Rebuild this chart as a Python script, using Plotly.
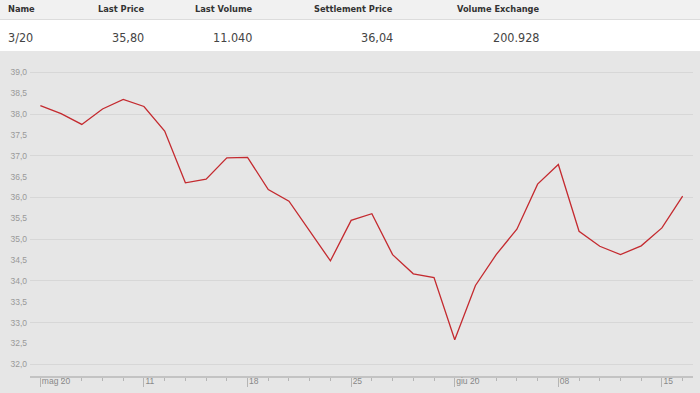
import plotly.graph_objects as go

# ---- data ----
day_index = list(range(32))
prices = [38.20, 38.01, 37.75, 38.12, 38.35, 38.18, 37.59, 36.35, 36.44, 36.95,
          36.96, 36.19, 35.91, 35.19, 34.48, 35.45, 35.61, 34.63, 34.17, 34.08,
          32.59, 33.89, 34.63, 35.24, 36.32, 36.79, 35.19, 34.83, 34.63, 34.84,
          35.27, 36.03]
x_tick_index = [0, 5, 10, 15, 20, 25, 30]
x_tick_labels = ["mag 20", "11", "18", "25", "giu 20", "08", "15"]
y_label_ticks = [32.0, 32.5, 33.0, 33.5, 34.0, 34.5, 35.0, 35.5, 36.0, 36.5,
                 37.0, 37.5, 38.0, 38.5, 39.0]
y_grid_ticks = [32.0, 33.0, 34.0, 35.0, 36.0, 37.0, 38.0, 39.0]
header_labels = ["Name", "Last Price", "Last Volume", "Settlement Price", "Volume Exchange"]
row_values = ["3/20", "35,80", "11.040", "36,04", "200.928"]

# ---- layout helpers ----
W, H = 700, 393
B = 17
PH = H - B  # height of paper area


def px_x(p):
    return p / W


def px_y(p):
    return (PH - p) / PH


header_x = [6, 146, 254.5, 395, 542]
header_anchor = ["left", "right", "right", "right", "right"]
narrow = "Liberation Sans Narrow, DejaVu Sans Condensed, Arial Narrow, sans-serif"

fig = go.Figure()
fig.add_trace(go.Scatter(
    x=day_index, y=prices, mode="lines",
    line=dict(color="#c42a2f", width=1.3),
    hoverinfo="skip", showlegend=False,
))

shapes = [
    dict(type="rect", xref="paper", yref="paper", x0=0, x1=1,
         y0=px_y(19.5), y1=1, fillcolor="#f1f1f1", line=dict(width=0), layer="below"),
    dict(type="rect", xref="paper", yref="paper", x0=0, x1=1,
         y0=px_y(51), y1=px_y(19.5), fillcolor="#ffffff", line=dict(width=0), layer="below"),
    dict(type="line", xref="paper", yref="paper", x0=0, x1=1,
         y0=px_y(19.5), y1=px_y(19.5), line=dict(color="#dcdcdc", width=1)),
]

annotations = []
for lab, val, xp, anc in zip(header_labels, row_values, header_x, header_anchor):
    annotations.append(dict(
        text="<b>" + lab + "</b>", x=px_x(xp), y=px_y(8.5), xref="paper", yref="paper",
        xanchor=anc, yanchor="middle", showarrow=False,
        font=dict(family=narrow, size=9.2, color="#333333")))
    annotations.append(dict(
        text=val, x=px_x(xp), y=px_y(37), xref="paper", yref="paper",
        xanchor=anc, yanchor="middle", showarrow=False,
        font=dict(family=narrow, size=12.5, color="#444444")))

y_range = [31.72, 39.295]
fig.update_layout(
    width=W, height=H,
    margin=dict(l=0, r=0, t=0, b=B),
    paper_bgcolor="#e6e6e6", plot_bgcolor="#e6e6e6",
    separators=",.",
    shapes=shapes, annotations=annotations,
    xaxis=dict(
        domain=[30 / W, 693 / W], range=[-0.5, 31.5],
        tickmode="array", tickvals=x_tick_index, ticktext=x_tick_labels,
        ticks="outside", ticklen=9, tickwidth=1, tickcolor="#b5b5b5",
        ticklabelposition="outside right", ticklabelstandoff=-4,
        tickfont=dict(family="Arial, Liberation Sans, sans-serif", size=8.5, color="#888888"),
        minor=dict(dtick=1, tick0=0, ticks="outside", ticklen=3, tickcolor="#b5b5b5", tickwidth=1),
        showgrid=False, zeroline=False,
        showline=True, linecolor="#c3c3c3", linewidth=2,
    ),
    yaxis=dict(
        domain=[0, px_y(60)], range=y_range,
        tickmode="array", tickvals=y_label_ticks, tickformat=".1f",
        tickfont=dict(family="Arial, Liberation Sans, sans-serif", size=8.5, color="#999999"),
        showgrid=False, zeroline=False, ticks="", ticklabelstandoff=2,
    ),
    yaxis2=dict(
        overlaying="y", matches="y", range=y_range, side="left",
        tickmode="array", tickvals=y_grid_ticks, showticklabels=False,
        showgrid=True, gridcolor="#d7d7d7", gridwidth=1, zeroline=False, ticks="",
    ),
)
fig.add_trace(go.Scatter(x=[None], y=[None], yaxis="y2", showlegend=False, hoverinfo="skip"))

fig.write_html("out.html", config={"displayModeBar": False},
               post_script="document.body.style.margin='0';")
